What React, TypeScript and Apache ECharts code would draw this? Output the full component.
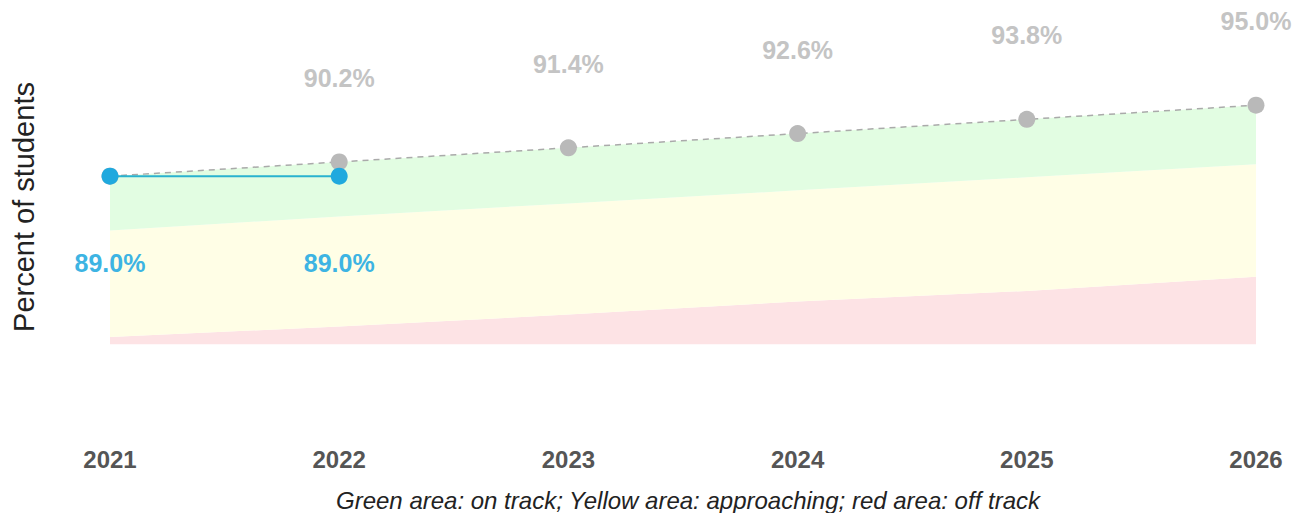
import React, { useEffect, useRef } from "react";
import * as echarts from "echarts";

const years = ["2021", "2022", "2023", "2024", "2025", "2026"];
const target = [89.0, 90.2, 91.4, 92.6, 93.8, 95.0];
const actual = [89.0, 89.0];
const onTrackFloor = [84.4, 85.6, 86.7, 87.8, 88.9, 90.0];
const approachingFloor = [75.4, 76.3, 77.3, 78.4, 79.3, 80.5];
const offTrackFloor = [74.8, 74.8, 74.8, 74.8, 74.8, 74.8];

const FONT = "'Liberation Sans', Arial, sans-serif";

export default function App() {
  const ref = useRef<HTMLDivElement>(null);
  useEffect(() => {
    const chart = echarts.init(ref.current!, null, { renderer: "svg" });
    const redH = approachingFloor.map((v, i) => +(v - offTrackFloor[i]).toFixed(2));
    const yellowH = onTrackFloor.map((v, i) => +(v - approachingFloor[i]).toFixed(2));
    const greenH = target.map((v, i) => +(v - onTrackFloor[i]).toFixed(2));
    const areaSeries = (name: string, data: number[], color: string | null) => ({
      name,
      type: "line",
      stack: "bands",
      data,
      symbol: "none",
      silent: true,
      lineStyle: { width: 0, opacity: 0 },
      areaStyle: color ? { color, opacity: 1 } : { opacity: 0 },
      z: 1,
    });
    chart.setOption({
      animation: false,
      grid: { left: 110, right: 46, top: 46, height: 355 },
      xAxis: {
        type: "category",
        data: years,
        boundaryGap: false,
        axisLine: { show: false },
        axisTick: { show: false },
        splitLine: { show: false },
        axisLabel: {
          margin: 46,
          color: "#555555",
          fontWeight: "bold",
          fontSize: 24,
          fontFamily: FONT,
        },
      },
      yAxis: {
        type: "value",
        min: 70,
        max: 100,
        show: false,
        splitLine: { show: false },
      },
      graphic: [
        {
          type: "text",
          x: 24,
          y: 207,
          rotation: Math.PI / 2,
          style: {
            text: "Percent of students",
            fontSize: 29,
            fontFamily: FONT,
            fill: "#222222",
            textAlign: "center",
            textVerticalAlign: "middle",
          },
        },
        {
          type: "text",
          x: 688,
          y: 500,
          style: {
            text: "Green area: on track; Yellow area: approaching; red area: off track",
            fontSize: 24,
            fontStyle: "italic",
            fontFamily: FONT,
            fill: "#222222",
            textAlign: "center",
            textVerticalAlign: "middle",
          },
        },
      ],
      series: [
        areaSeries("base", offTrackFloor, null),
        areaSeries("Off track", redH, "#fde3e5"),
        areaSeries("Approaching", yellowH, "#fffee6"),
        areaSeries("On track", greenH, "#e2fde2"),
        {
          name: "Target",
          type: "line",
          data: target.map((v, i) => ({
            value: v,
            label: { show: i > 0 },
          })),
          symbol: "circle",
          symbolSize: 17,
          itemStyle: { color: "#b9b9b9" },
          lineStyle: { color: "#aaaaaa", width: 1.5, type: [6, 5] },
          label: {
            show: true,
            position: "top",
            distance: 63,
            formatter: (p: any) => p.value.toFixed(1) + "%",
            color: "#c4c4c4",
            fontWeight: "bold",
            fontSize: 25,
            fontFamily: FONT,
          },
          z: 3,
        },
        {
          name: "Actual",
          type: "line",
          data: actual,
          symbol: "circle",
          symbolSize: 17,
          itemStyle: { color: "#20a9de" },
          lineStyle: { color: "#29b2cf", width: 2 },
          label: {
            show: true,
            position: "bottom",
            distance: 66,
            formatter: (p: any) => p.value.toFixed(1) + "%",
            color: "#3db4e3",
            fontWeight: "bold",
            fontSize: 25,
            fontFamily: FONT,
          },
          z: 4,
        },
      ],
    });
    return () => chart.dispose();
  }, []);
  return (
    <div
      ref={ref}
      style={{ position: "fixed", left: 0, top: 0, width: 1302, height: 513, background: "#ffffff" }}
    />
  );
}
